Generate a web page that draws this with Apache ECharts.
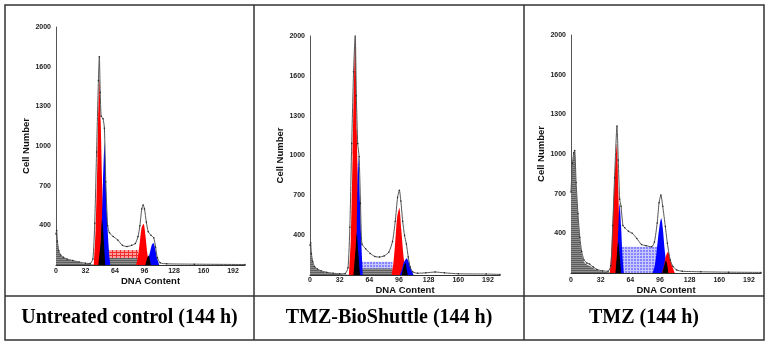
<!DOCTYPE html>
<html>
<head>
<meta charset="utf-8">
<script src="https://cdn.jsdelivr.net/npm/echarts@6/dist/echarts.min.js"></script>
<style>
  html, body { margin: 0; padding: 0; background: #fff; }
  #chart { width: 768px; height: 343px; }
</style>
</head>
<body>
<div id="chart"></div>
<script>
// tick labels (the printed y labels are not evenly spaced in value, but sit on even gridlines)
const yTickLabels = ['0', '400', '700', '1000', '1300', '1600', '2000'];
const xTickStep = 32;
const captions = ['Untreated control (144 h)', 'TMZ-BioShuttle (144 h)', 'TMZ (144 h)'];

// ---- Untreated control ----
const ctrlDebris = [[0,0],[0.5,255],[1.5,190],[3,110],[5,80],[8,62],[12,48],[18,35],[25,22],[32,12],[40,5],[48,0]];
const ctrlRaw = [[0,260],[0.7,290],[1.5,200],[3,120],[5,85],[8,65],[12,50],[18,38],[25,25],[32,15],[37,12],[40,50],[42,350],[44,950],[46,1550],[47,1750],[48,1450],[49,1250],[51,1230],[52.5,1150],[54,700],[56,330],[58,270],[62,240],[67,210],[72,165],[77,155],[82,165],[86,180],[89,240],[91,330],[93,470],[94.5,505],[96,470],[98,360],[100,280],[103,250],[106,230],[108,150],[110,60],[113,18],[120,10],[150,7],[205,4]];
const ctrlG1Red = [[41,0],[43,300],[45,900],[47,1560],[48.5,1200],[50,700],[52,250],[54,0]];
const ctrlG1Blue = [[48,0],[49.5,300],[51,700],[52.7,1030],[54,700],[56,300],[58,60],[59,0]];
const ctrlG1Black = [[46,0],[48.5,200],[50,380],[51.5,250],[53.5,0]];
const ctrlG2Red = [[87,0],[89,80],[91,200],[93,320],[95,345],[97,250],[99,100],[101,0]];
const ctrlG2Blue = [[98,0],[100,50],[102,110],[104,170],[105.7,185],[107.5,140],[109.5,60],[112,0]];
const ctrlG2Black = [[97,0],[99,60],[100.5,80],[102,40],[103,0]];
const ctrlSPhase = [[57,126],[89,126]];
const ctrlSGrey = [[57,58],[89,58]];

// ---- TMZ-BioShuttle ----
const shutDebris = [[0,0],[0.5,245],[1.5,170],[3,100],[5,65],[8,45],[12,32],[18,20],[25,12],[32,7],[40,3],[46,0]];
const shutRaw = [[0,250],[0.7,270],[1.5,180],[3,110],[5,70],[8,50],[12,35],[18,22],[25,15],[32,10],[38,12],[41,60],[43,400],[45,1100],[47,1700],[48.8,2020],[50,1500],[51.5,1100],[53,990],[54.5,600],[56,260],[60,220],[65,180],[70,155],[75,150],[80,160],[85,190],[89,280],[92,450],[94.5,650],[96.4,710],[98,620],[100,450],[102,330],[104,260],[106,150],[108,67],[111,25],[116,15],[125,18],[135,25],[145,18],[160,10],[190,8],[205,5]];
const shutG1Red = [[42,0],[44,300],[46,1000],[48.9,1990],[50.5,1200],[52,600],[54,0]];
const shutG1Blue = [[49,0],[50.5,400],[52.1,990],[54,600],[55.5,250],[57,0]];
const shutG1Black = [[47,0],[49,200],[50.5,350],[52,200],[54,0]];
const shutG2Red = [[88,0],[90,100],[92,280],[94,480],[96.4,560],[98.5,380],[101,150],[103,40],[104,0]];
const shutG2Blue = [[97,0],[99,40],[101,100],[104.3,140],[107,100],[110,30],[112,0]];
const shutG2Black = [[99,0],[101,70],[103,100],[104.5,40],[105.5,0]];
const shutSPhase = [[56,111],[89,111]];
const shutSGrey = [[56,55],[89,55]];

// ---- TMZ ----
const tmzDebris = [[0,650],[1.5,900],[3,1000],[4,1020],[5.5,740],[7.5,480],[9.5,280],[11.5,165],[14,95],[17,72],[20,60],[24,40],[28,25],[34,14],[40,6],[46,0]];
const tmzRaw = [[0,680],[1.5,920],[3,1010],[4,1030],[5.5,760],[7.5,500],[9.5,300],[11.5,180],[14,110],[17,85],[20,75],[24,50],[28,30],[34,18],[40,15],[43,60],[45,400],[47,800],[49.6,1235],[51,950],[52.5,620],[54,560],[56,400],[58,380],[62,350],[66,335],[71,290],[76,240],[81,230],[87,220],[90,260],[93,420],[95,590],[97,655],[99,560],[101.8,390],[104,250],[107,110],[110,55],[114,25],[120,15],[140,10],[170,7],[205,5]];
const tmzG1Red = [[42,0],[44,250],[46,600],[48,950],[49.6,1090],[51,700],[52.5,300],[54,0]];
const tmzG1Blue = [[49,0],[50.5,250],[52.5,586],[54,400],[55.5,150],[57,0]];
const tmzG1Black = [[48,0],[49.5,150],[51,260],[52.5,150],[54,0]];
const tmzG2Blue = [[88,0],[90,50],[92,150],[94,300],[96,420],[97.4,460],[99,380],[101,200],[103,70],[104.5,0]];
const tmzG2Red = [[98,0],[100,50],[102,130],[104.6,179],[107,120],[109.5,50],[112,0]];
const tmzG2Black = [[98.5,0],[100.5,60],[102.5,105],[104,60],[105,0]];
const tmzSPhase = [[55,221],[94,221]];

const yMax = 2000;
const yStep = yMax / 6;
const xMax = 205;

function hatch(bg, fg, w, h, vertical) {
  const c = document.createElement('canvas');
  c.width = w; c.height = h;
  const ctx = c.getContext('2d');
  ctx.fillStyle = bg;
  ctx.fillRect(0, 0, w, h);
  ctx.fillStyle = fg;
  ctx.fillRect(0, 0, w, 1);
  if (vertical) ctx.fillRect(0, 0, 1, h);
  return { image: c, repeat: 'repeat' };
}

const greyFill = hatch('#8e8e8e', '#5e5e5e', 3, 2, false);
const redHatch = hatch('#ffa0a0', '#f03030', 4, 3, true);
const blueHatch = hatch('#8585ff', '#c8c8ff', 3, 3, true);

function area(idx, data, fill, z) {
  return {
    type: 'line', xAxisIndex: idx, yAxisIndex: idx, data: data,
    smooth: 0.25, symbol: 'none', silent: true, z: z,
    lineStyle: { width: 0 },
    areaStyle: { color: fill, opacity: 1 }
  };
}

function rawLine(idx, data) {
  return {
    type: 'line', xAxisIndex: idx, yAxisIndex: idx, data: data,
    smooth: 0.2, symbol: 'circle', symbolSize: 1.5, showAllSymbol: true, silent: true, z: 10,
    lineStyle: { color: '#555', width: 1 },
    itemStyle: { color: '#222' }
  };
}

const grids = [
  { left: 56, top: 27, width: 189, height: 238 },
  { left: 310, top: 36, width: 190, height: 239 },
  { left: 571, top: 35, width: 190, height: 238 }
];
const xLabelMargin = [3, 2, 4];
const xNameGap = [11, 10, 12];

const tickFont = { fontFamily: 'Liberation Sans', fontWeight: 'bold', fontSize: 7, color: '#222' };
const nameFont = { fontFamily: 'Liberation Sans', fontWeight: 'bold', fontSize: 9.5, color: '#111' };

const xAxes = grids.map((g, i) => ({
  gridIndex: i, type: 'value', min: 0, max: xMax, interval: xTickStep,
  name: 'DNA Content', nameLocation: 'middle', nameGap: xNameGap[i], nameMoveOverlap: false, nameTextStyle: nameFont,
  axisLine: { lineStyle: { color: '#333', width: 1 } },
  axisTick: { show: false }, splitLine: { show: false },
  axisLabel: Object.assign({ margin: xLabelMargin[i], formatter: v => (v % xTickStep === 0 ? String(v) : '') }, tickFont)
}));

const yAxes = grids.map((g, i) => ({
  gridIndex: i, type: 'value', min: 0, max: yMax, interval: yStep,
  name: 'Cell Number', nameLocation: 'middle', nameRotate: 90, nameGap: 24, nameTextStyle: nameFont,
  axisLine: { show: true, lineStyle: { color: '#555', width: 1 } },
  axisTick: { show: false }, splitLine: { show: false },
  axisLabel: Object.assign({ margin: 5, showMinLabel: false, formatter: v => yTickLabels[Math.round(v / yStep)] || '' }, tickFont)
}));

const series = [
  // untreated control
  area(0, ctrlSPhase, redHatch, 1),
  area(0, ctrlSGrey, greyFill, 2),
  area(0, ctrlDebris, greyFill, 2),
  area(0, ctrlG1Red, '#ff0000', 3),
  area(0, ctrlG1Blue, '#0000ff', 3),
  area(0, ctrlG2Red, '#ff0000', 3),
  area(0, ctrlG2Blue, '#0000ff', 3),
  area(0, ctrlG1Black, '#000', 4),
  area(0, ctrlG2Black, '#000', 4),
  rawLine(0, ctrlRaw),
  // TMZ-BioShuttle
  area(1, shutSPhase, blueHatch, 1),
  area(1, shutSGrey, greyFill, 2),
  area(1, shutDebris, greyFill, 2),
  area(1, shutG1Red, '#ff0000', 3),
  area(1, shutG1Blue, '#0000ff', 3),
  area(1, shutG2Red, '#ff0000', 3),
  area(1, shutG2Blue, '#0000ff', 3),
  area(1, shutG1Black, '#000', 4),
  area(1, shutG2Black, '#000', 4),
  rawLine(1, shutRaw),
  // TMZ
  area(2, tmzSPhase, blueHatch, 1),
  area(2, tmzDebris, greyFill, 2),
  area(2, tmzG1Red, '#ff0000', 3),
  area(2, tmzG1Blue, '#0000ff', 3),
  area(2, tmzG2Blue, '#0000ff', 3),
  area(2, tmzG2Red, '#ff0000', 3),
  area(2, tmzG1Black, '#000', 4),
  area(2, tmzG2Black, '#000', 4),
  rawLine(2, tmzRaw)
];

// table frame around the three panels
const frame = { stroke: '#333', lineWidth: 1.5 };
const captionX = [129.5, 389, 644];
const graphic = [
  { type: 'rect', shape: { x: 5, y: 5, width: 759, height: 335 }, style: Object.assign({ fill: 'none' }, frame), silent: true },
  { type: 'line', shape: { x1: 254, y1: 5, x2: 254, y2: 340 }, style: frame, silent: true },
  { type: 'line', shape: { x1: 524, y1: 5, x2: 524, y2: 340 }, style: frame, silent: true },
  { type: 'line', shape: { x1: 5, y1: 296, x2: 764, y2: 296 }, style: frame, silent: true }
].concat(captions.map((t, i) => ({
  type: 'text', x: captionX[i], y: 318, silent: true,
  style: { text: t, align: 'center', verticalAlign: 'middle', fill: '#000',
    font: 'bold 20px "Liberation Serif", "Times New Roman", serif' }
})));

const chart = echarts.init(document.getElementById('chart'), null, { renderer: 'canvas' });
chart.setOption({
  animation: false,
  backgroundColor: '#fff',
  grid: grids,
  xAxis: xAxes,
  yAxis: yAxes,
  series: series,
  graphic: graphic
});
</script>
</body>
</html>
